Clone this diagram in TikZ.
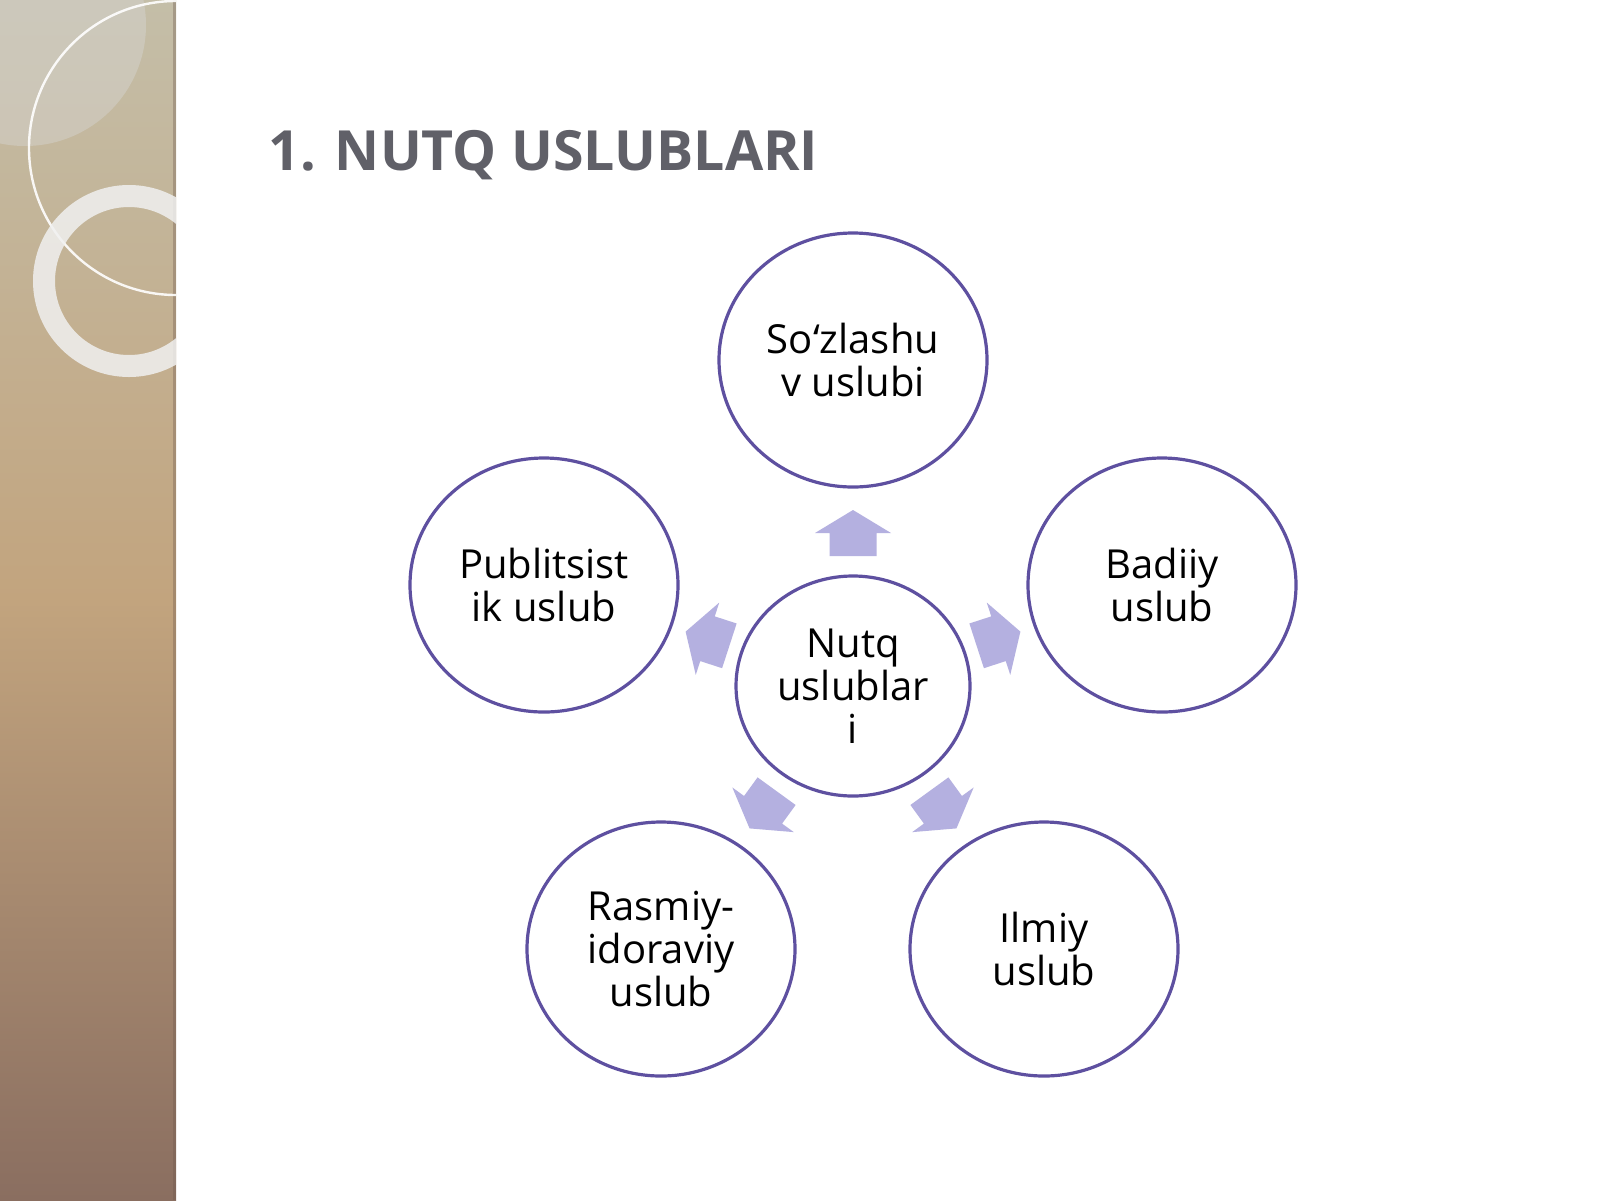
\documentclass[tikz,border=0pt]{standalone}
\usepackage{fontspec}
\setmainfont{Open Sans}
\usetikzlibrary{shapes.geometric}
\definecolor{ringcol}{RGB}{94,80,160}
\definecolor{arrowcol}{RGB}{180,176,224}
\definecolor{titlecol}{RGB}{96,96,104}
\definecolor{stripA}{RGB}{196,190,168}
\definecolor{stripB}{RGB}{194,164,126}
\definecolor{stripC}{RGB}{138,110,96}
\tikzset{
  bubble/.style={ellipse, draw=ringcol, line width=1.6pt, fill=white, inner sep=0pt,
    minimum width=134pt, minimum height=127pt, align=center,
    font=\fontsize{20pt}{21.5pt}\selectfont},
  hubble/.style={bubble, minimum width=117pt, minimum height=110pt},
  flowarrow/.style={fill=arrowcol, draw=none},
}
\begin{document}
\begin{tikzpicture}[x=0.5pt,y=-0.5pt]
\useasboundingbox (0,0) rectangle (1600,1200);
\fill[white] (0,0) rectangle (1600,1200);
% left decorative strip
\shade[top color=stripA, bottom color=stripC, middle color=stripB] (0,0) rectangle (176,1200);
\draw[stripC!80!black, opacity=0.35, line width=1.5pt] (174,0) -- (174,1200);
\begin{scope}
  \clip (0,0) rectangle (176,1200);
  \fill[gray!30!white, opacity=0.4] (25,25) circle[radius=121];
  \draw[white, opacity=0.9, line width=1.2pt] (176,148) circle[radius=147];
  \draw[gray!12!white, opacity=0.85, line width=11pt] (129,281) circle[radius=85];
\end{scope}
% title
\node[anchor=base west, inner sep=0pt, text=titlecol, font=\fontsize{27.7pt}{32pt}\selectfont\bfseries] (title) at (268,170) {1. NUTQ USLUBLARI};
% arrows
\foreach \ang in {0,72,144,-72,-144}{
  \begin{scope}[shift={(853,686)}, rotate=\ang]
    \fill[flowarrow] (0,-176) -- (38,-153) -- (23.5,-153) -- (23.5,-130) -- (-23.5,-130) -- (-23.5,-153) -- (-38,-153) -- cycle;
  \end{scope}
}
% bubbles
\node[hubble] (hub) at (853,686) {Nutq\\uslublar\\i};
\node[bubble] (soz) at (853,360) {So‘zlashu\\v uslubi};
\node[bubble] (pub) at (544,585) {Publitsist\\ik uslub};
\node[bubble] (bad) at (1162,585) {Badiiy\\uslub};
\node[bubble] (ras) at (661,949) {Rasmiy-\\idoraviy\\uslub};
\node[bubble] (ilm) at (1044,949) {Ilmiy\\uslub};
\end{tikzpicture}
\end{document}
